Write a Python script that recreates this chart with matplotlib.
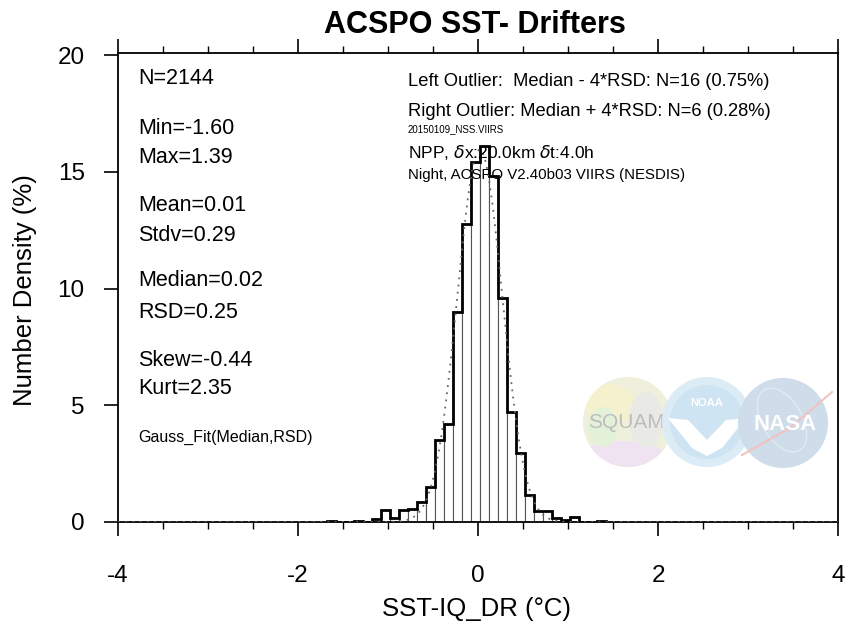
import numpy as np
import matplotlib
matplotlib.use("Agg")
import matplotlib.pyplot as plt
from matplotlib.patches import Circle, Polygon, Ellipse
from matplotlib.ticker import MultipleLocator

plt.rcParams['font.family'] = ['Liberation Sans', 'DejaVu Sans']
plt.rcParams['axes.unicode_minus'] = False

# ---- data ----
bin_edges = [-1.68, -1.58, -1.48, -1.38, -1.28, -1.18, -1.08, -0.98, -0.88, -0.78,
             -0.68, -0.58, -0.48, -0.38, -0.28, -0.18, -0.08, 0.02, 0.12, 0.22,
             0.32, 0.42, 0.52, 0.62, 0.72, 0.82, 0.92, 1.02, 1.12, 1.22, 1.32, 1.42]
density_pct = [0.05, 0.0, 0.0, 0.05, 0.0, 0.14, 0.51, 0.19, 0.52, 0.56,
               0.84, 1.50, 3.50, 4.20, 9.00, 12.77, 15.44, 16.10, 14.85, 9.60,
               4.72, 2.94, 1.16, 0.47, 0.47, 0.19, 0.09, 0.23, 0.0, 0.0, 0.05]
median = 0.02
rsd = 0.25
bin_width = 0.1

stats_lines = [("N=2144", 78), ("Min=-1.60", 128), ("Max=1.39", 157.5),
               ("Mean=0.01", 205.5), ("Stdv=0.29", 235), ("Median=0.02", 281),
               ("RSD=0.25", 313), ("Skew=-0.44", 360), ("Kurt=2.35", 389)]
info_lines = [("Left Outlier:  Median - 4*RSD: N=16 (0.75%)", 81, 13.2),
              ("Right Outlier: Median + 4*RSD: N=6 (0.28%)", 111, 13.2),
              ("20150109_NSS.VIIRS", 129, 7.0),
              (r"NPP, $\delta$x:20.0km $\delta$t:4.0h", 152, 12.5),
              ("Night, ACSPO V2.40b03 VIIRS (NESDIS)", 175, 10.8)]

W, H = 846, 626
fig = plt.figure(figsize=(W / 100, H / 100), dpi=100)
ax = fig.add_axes([118 / W, (H - 522) / H, 720 / W, 469 / H])

edges = np.array(bin_edges)
vals = np.array(density_pct)
centers = (edges[:-1] + edges[1:]) / 2
ax.bar(centers, vals, width=bin_width, facecolor='white', edgecolor='#555555',
       linewidth=0.8, zorder=2)
ax.stairs(vals, edges, color='black', linewidth=2.0, zorder=3)

xg = np.linspace(-4, 4, 801)
yg = 100 * bin_width / (rsd * np.sqrt(2 * np.pi)) * np.exp(-0.5 * ((xg - median) / rsd) ** 2)
ax.plot(xg, yg, linestyle=(0, (1, 3)), color='#666666', linewidth=1.3, zorder=4)

ax.set_xlim(-4, 4)
ax.set_ylim(0, 20.1)
ax.xaxis.set_major_locator(MultipleLocator(2))
ax.xaxis.set_minor_locator(MultipleLocator(0.5))
ax.yaxis.set_major_locator(MultipleLocator(5))
ax.tick_params(axis='x', which='both', direction='out', top=True, bottom=True,
               labelsize=17.5, pad=21)
ax.tick_params(axis='x', which='major', length=10, width=1.2)
ax.tick_params(axis='x', which='minor', length=5, width=1.0)
ax.tick_params(axis='y', which='major', direction='out', length=10, width=1.2,
               left=True, right=False, labelsize=17.5, pad=14)
for s in ax.spines.values():
    s.set_linewidth(1.3)

fig.text(475 / W, 1 - 25 / H, "ACSPO SST- Drifters", ha='center', va='center',
         fontsize=22, fontweight='bold')
fig.text(476 / W, 1 - 609 / H, "SST-IQ_DR (°C)", ha='center', va='center', fontsize=18.5)
fig.text(25 / W, 1 - 290 / H, "Number Density (%)", ha='center', va='center',
         rotation=90, fontsize=18.5)

for txt, yp in stats_lines:
    fig.text(138 / W, 1 - yp / H, txt, ha='left', va='center', fontsize=15.5)
fig.text(138 / W, 1 - 437 / H, "Gauss_Fit(Median,RSD)", ha='left', va='center', fontsize=11.5)
for txt, yp, fs in info_lines:
    fig.text(408 / W, 1 - yp / H, txt, ha='left', va='center', fontsize=fs)

# ---- faint logos overlay ----
ov = fig.add_axes([0, 0, 1, 1], zorder=-1)
ov.set_xlim(0, W)
ov.set_ylim(H, 0)
ov.axis('off')
ax.set_facecolor('none')

# SQUAM globe (pastel)
cx, cy, r = 628, 422, 45
globe = Circle((cx, cy), r, facecolor='#eef0dc', edgecolor='none', zorder=1)
ov.add_patch(globe)
for (ex, ey, ew, eh, col, z) in [(cx - 18, cy - 18, 50, 40, '#f5f1cf', 1.1),
                                 (cx - 5, cy + 32, 80, 26, '#efe2f1', 1.1),
                                 (cx - 25, cy + 5, 30, 40, '#e3f1d8', 1.1),
                                 (cx + 18, cy - 2, 34, 56, '#e9e9e6', 1.2)]:
    e = Ellipse((ex, ey), ew, eh, facecolor=col, edgecolor='none', zorder=z)
    ov.add_patch(e)
    e.set_clip_path(globe)
ov.text(626, 422, "SQUAM", ha='center', va='center', fontsize=15, color='#bdbdbd', zorder=2)

# NOAA
ov.add_patch(Circle((707, 422), 45, facecolor='#dcecf6', edgecolor='none', zorder=3))
ov.add_patch(Circle((707, 422), 37, facecolor='#cfe4f2', edgecolor='none', zorder=3.1))
ov.add_patch(Polygon([(668, 418), (688, 420), (707, 440), (726, 420), (746, 418),
                      (722, 448), (707, 456), (692, 448)],
                     closed=True, facecolor='white', edgecolor='none', zorder=3.2))
ov.text(707, 403, "NOAA", ha='center', va='center', fontsize=8, color='white',
        fontweight='bold', zorder=3.3)

# NASA
ov.add_patch(Circle((783, 423), 45, facecolor='#cfdcea', edgecolor='none', zorder=4))
ov.add_patch(Ellipse((782, 420), 40, 70, angle=-30, facecolor='none', edgecolor='#e2eaf3',
                     linewidth=1, zorder=4.05))
ov.plot([742, 790, 832], [455, 428, 392], color='#f1c2c2', linewidth=1.5, zorder=4.1)
ov.text(785, 425, "NASA", ha='center', va='center', fontsize=16, color='white',
        fontweight='bold', zorder=4.2)

fig.savefig("out.png", dpi=100)
